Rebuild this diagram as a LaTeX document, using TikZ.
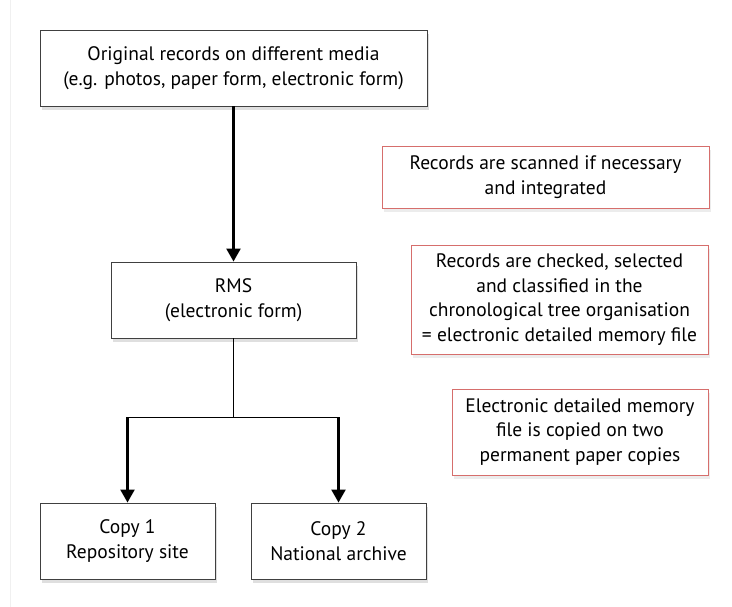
\documentclass[tikz,border=0pt]{standalone}
\usepackage{fontspec}
\setmainfont{PT Sans}
\usetikzlibrary{arrows.meta,shadows}

\definecolor{notered}{RGB}{214,110,108}

\tikzset{
    boxstyle/.style={draw=black!75, line width=0.9pt, fill=white, align=center,
        inner sep=0pt, drop shadow={opacity=0.25, shadow xshift=2pt, shadow yshift=-4pt}},
    notestyle/.style={draw=notered, line width=0.9pt, fill=white, align=center,
        inner sep=0pt, drop shadow={opacity=0.15, shadow xshift=2pt, shadow yshift=-4pt}},
    flow/.style={line width=2.4pt, -{Triangle[length=13pt,width=14pt]}},
}

\begin{document}
\begin{tikzpicture}[x=1pt, y=-1pt, font=\fontsize{19.5}{24.5}\selectfont]
        \useasboundingbox (0,0) rectangle (732,607);
        \draw[black!6, line width=1pt] (10,0) -- (10,607);

        % Main chain
        \node[boxstyle, minimum width=387pt, minimum height=76pt] (orig) at (233.5, 68)
            {Original records on different media\\(e.g. photos, paper form, electronic form)};
        \node[boxstyle, minimum width=245pt, minimum height=76pt] (rms) at (233.5, 300)
            {RMS\\(electronic form)};

        \draw[flow] (orig) -- (rms);

        % Copies
        \node[boxstyle, minimum width=175pt, minimum height=76pt] (copyone) at (127.5, 541)
            {Copy 1\\Repository site};
        \node[boxstyle, minimum width=175pt, minimum height=76pt] (copytwo) at (338.5, 541)
            {Copy 2\\National archive};

        \coordinate (split) at (233.5, 417);
        \coordinate (splitone) at (127.5, 417);
        \coordinate (splittwo) at (338.5, 417);

        \draw[line width=1pt] (rms) -- (split);
        \draw[line width=1pt] (splitone) -- (splittwo);
        \draw[flow] (splitone) -- (copyone);
        \draw[flow] (splittwo) -- (copytwo);

        % Notes
        \node[notestyle, minimum width=327pt, minimum height=62pt] (scan) at (545.5, 177)
            {Records are scanned if necessary\\and integrated};
        \node[notestyle, minimum width=297pt, minimum height=109pt] (check) at (559.5, 299.5)
            {Records are checked, selected\\and classified in the\\chronological tree organisation\\= electronic detailed memory file};
        \node[notestyle, minimum width=256pt, minimum height=86pt] (paper) at (580, 432)
            {Electronic detailed memory\\file is copied on two\\permanent paper copies};
    \end{tikzpicture}
\end{document}
